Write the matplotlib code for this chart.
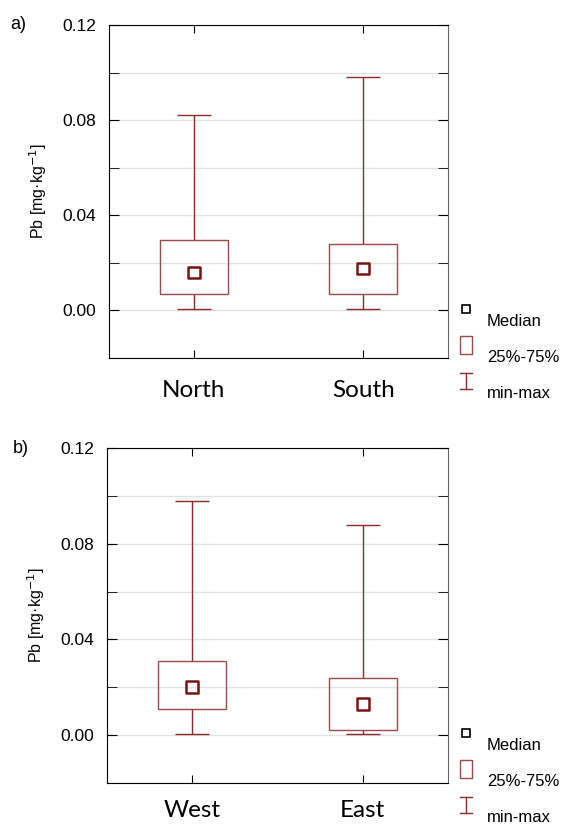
import numpy as np
import matplotlib
matplotlib.use("Agg")
import matplotlib.pyplot as plt
from matplotlib.lines import Line2D
from matplotlib.patches import Rectangle

# panel a) North / South, panel b) West / East  (Pb, mg/kg)
groups_a = ["North", "South"]
min_a = [0.0005, 0.0005]
q1_a = [0.007, 0.007]
med_a = [0.016, 0.0177]
q3_a = [0.0297, 0.028]
max_a = [0.082, 0.098]

groups_b = ["West", "East"]
min_b = [0.0005, 0.0005]
q1_b = [0.011, 0.002]
med_b = [0.020, 0.013]
q3_b = [0.031, 0.024]
max_b = [0.098, 0.088]

legend_labels = ["Median", "25%-75%", "min-max"]

box_col = "#9a4a4a"
whisk_col = "#8a2a2a"
med_col = "#781414"

plt.rcParams["font.family"] = ["Liberation Sans", "DejaVu Sans"]
fig = plt.figure(figsize=(5.63, 8.25), dpi=100)


def panel(ax, groups, mn, q1, med, q3, mx, xpad):
    x = np.arange(len(groups))
    q1 = np.array(q1); q3 = np.array(q3)
    ax.vlines(x, mn, q1, color=whisk_col, lw=1.0, zorder=3)
    ax.vlines(x, q3, mx, color=whisk_col, lw=1.0, zorder=3)
    ax.hlines(mn, x - 0.1, x + 0.1, color=whisk_col, lw=1.0, zorder=3)
    ax.hlines(mx, x - 0.1, x + 0.1, color=whisk_col, lw=1.0, zorder=3)
    ax.bar(x, q3 - q1, bottom=q1, width=0.4, fill=False,
           edgecolor=box_col, lw=1.0, zorder=3)
    ax.scatter(x, med, marker="s", s=70, facecolor="none",
               edgecolor=med_col, linewidths=1.8, zorder=4)
    ax.set_xlim(-0.5, 1.5)
    ax.set_ylim(-0.02, 0.12)
    ax.set_yticks([0.0, 0.04, 0.08, 0.12])
    ax.set_yticklabels(["0.00", "0.04", "0.08", "0.12"], fontsize=12.5)
    ax.set_yticks(np.arange(-0.02, 0.121, 0.02), minor=True)
    ax.grid(True, which="both", axis="y", color="#e2e2e2", lw=1.0, zorder=0)
    ax.set_xticks(x)
    ax.set_xticklabels(groups, fontsize=17.5, family=["Lato", "DejaVu Sans"])
    ax.tick_params(axis="x", direction="in", top=True, length=6, pad=xpad)
    ax.tick_params(axis="y", which="both", direction="in", right=True,
                   length=7, pad=9)
    ax.set_ylabel("Pb [mg·kg$^{-1}$]", fontsize=11.5, labelpad=10)
    ax.spines["right"].set_color("#666666")
    ax.set_axisbelow(True)


ax_a = fig.add_axes([0.1936, 0.566, 0.602, 0.4036])
panel(ax_a, groups_a, min_a, q1_a, med_a, q3_a, max_a, 16)
ax_b = fig.add_axes([0.190, 0.0509, 0.606, 0.406])
panel(ax_b, groups_b, min_b, q1_b, med_b, q3_b, max_b, 12)

fig.text(0.018, 0.97, "a)", fontsize=13, va="center")
fig.text(0.023, 0.456, "b)", fontsize=13, va="center")


def legend(y0):
    # y0 = figure y of the median marker
    step = 36 / 825
    mx = 466 / 563
    tx = 487 / 563
    fig.add_artist(Line2D([mx], [y0], marker="s", ms=6, mfc="none",
                          mec="black", mew=1.2, ls="none"))
    fig.add_artist(Rectangle((mx - 6 / 563, y0 - step - 9 / 825),
                             12 / 563, 18 / 825, fill=False,
                             ec=box_col, lw=1.0))
    yI = y0 - 2 * step
    fig.add_artist(Line2D([mx, mx], [yI - 8 / 825, yI + 8 / 825],
                          color=whisk_col, lw=1.0))
    fig.add_artist(Line2D([mx - 6 / 563, mx + 6 / 563], [yI + 8 / 825] * 2,
                          color=whisk_col, lw=1.0))
    fig.add_artist(Line2D([mx - 6 / 563, mx + 6 / 563], [yI - 8 / 825] * 2,
                          color=whisk_col, lw=1.0))
    for i, lab in enumerate(legend_labels):
        fig.text(tx, y0 - 13 / 825 - i * step, lab, fontsize=12, va="center")


legend(1 - 309 / 825)
legend(1 - 733 / 825)

fig.savefig("out.png", dpi=100)
